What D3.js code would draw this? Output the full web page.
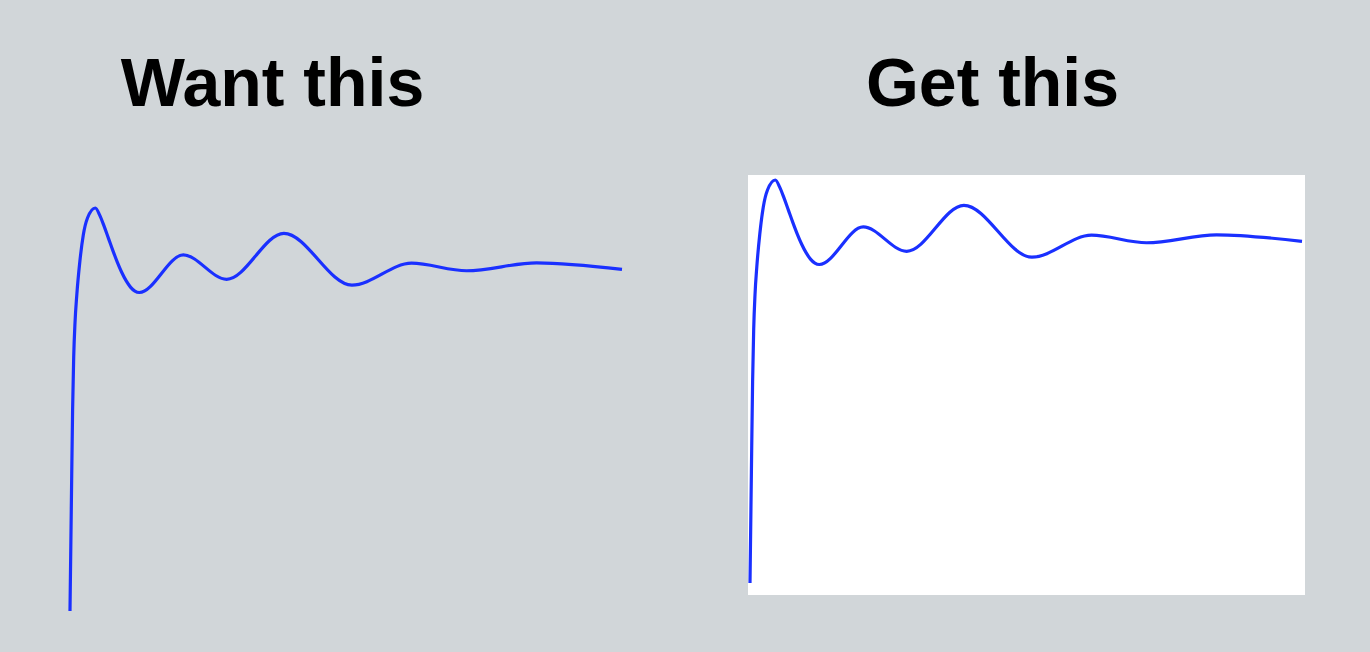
<!DOCTYPE html>
<html>
<head>
<meta charset="utf-8">
<script src="https://cdn.jsdelivr.net/npm/d3@7"></script>
<style>
  html, body { margin: 0; padding: 0; background: #d1d6d9; overflow: hidden; }
  svg { display: block; }
</style>
</head>
<body>
<svg id="chart" width="1370" height="652"></svg>
<script>
// Step-response data (time, response)
const time = [0, 0.0254, 0.0471, 0.067, 0.0905, 0.1231, 0.1775, 0.2408, 0.3169, 0.4593,
              0.5378, 0.6175, 0.6972, 0.7769, 0.8566, 0.9363, 1.0159, 1.0956, 1.1753, 1.255,
              2.052, 2.838, 3.875, 5.107, 6.188, 7.184, 8.452, 10];
const response = [0, 0.3236, 0.586, 0.7405, 0.8397, 0.9213, 1.0175, 1.0962, 1.1458, 1.1749,
                  1.1542, 1.1219, 1.0863, 1.0507, 1.0172, 0.9875, 0.963, 0.9443, 0.9327, 0.9286,
                  1.038, 0.967, 1.101, 0.95, 1.014, 0.992, 1.015, 0.996];
const titles = ["Want this", "Get this"];

const data = time.map((t, i) => ({ t, v: response[i] }));

const svg = d3.select("#chart");
svg.append("rect").attr("width", 1370).attr("height", 652).attr("fill", "#d1d6d9");

const panels = [
  { title: titles[0], titleX: 272.5, x0: 70, x1: 622, yZero: 611, bg: null },
  { title: titles[1], titleX: 992.5, x0: 750, x1: 1302, yZero: 583, bg: { x: 748, y: 175, w: 557, h: 420 } }
];

panels.forEach(p => {
  const g = svg.append("g");
  if (p.bg) {
    g.append("rect").attr("x", p.bg.x).attr("y", p.bg.y)
      .attr("width", p.bg.w).attr("height", p.bg.h).attr("fill", "#ffffff");
  }
  g.append("text")
    .attr("x", p.titleX).attr("y", 106)
    .attr("text-anchor", "middle")
    .attr("font-family", "'Liberation Sans', Arial, Helvetica, sans-serif")
    .attr("font-weight", "bold")
    .attr("font-size", 68)
    .attr("fill", "#000")
    .text(p.title);

  const x = d3.scaleLinear().domain([0, 10]).range([p.x0, p.x1]);
  const y = d3.scaleLinear().domain([0, 1]).range([p.yZero, p.yZero - 343]);

  const line = d3.line()
    .x(d => x(d.t))
    .y(d => y(d.v))
    .curve(d3.curveMonotoneX);

  g.append("path")
    .datum(data)
    .attr("d", line)
    .attr("fill", "none")
    .attr("stroke", "#1a30ff")
    .attr("stroke-width", 3.2);
});
</script>
</body>
</html>
